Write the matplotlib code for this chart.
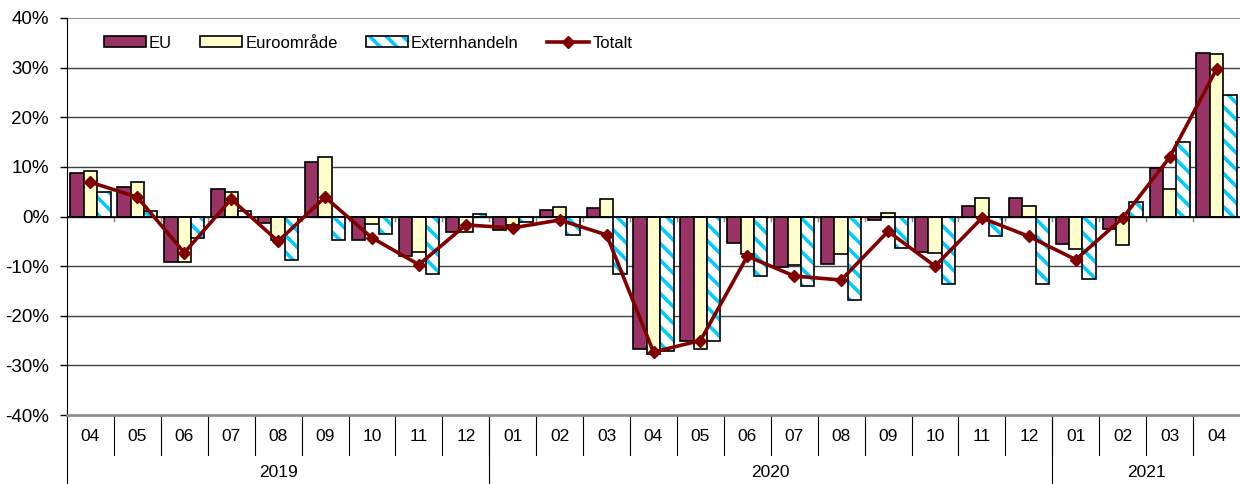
import matplotlib.pyplot as plt
import matplotlib.patches as patches
from matplotlib.lines import Line2D
import numpy as np

plt.rcParams['font.family'] = ['Liberation Sans', 'DejaVu Sans']
plt.rcParams['hatch.color'] = '#00CCFF'
plt.rcParams['hatch.linewidth'] = 2.6

# Data (% change), 2019-04 .. 2021-04
months = ['04', '05', '06', '07', '08', '09', '10', '11', '12',
          '01', '02', '03', '04', '05', '06', '07', '08', '09', '10', '11', '12',
          '01', '02', '03', '04']
years = ['2019', '2020', '2021']
year_counts = [9, 12, 4]

eu = [8.7, 6.0, -9.1, 5.5, -1.3, 10.9, -4.8, -8.0, -3.1,
      -2.8, 1.3, 1.8, -26.8, -25.1, -5.3, -10.2, -9.5, -0.8, -7.1, 2.1, 3.7,
      -5.5, -2.5, 9.8, 33.0]
euroomrade = [9.2, 7.0, -9.2, 4.9, -4.7, 11.9, -1.5, -7.1, -3.1,
              -1.7, 2.0, 3.6, -27.7, -26.7, -7.5, -9.7, -7.5, 0.7, -7.3, 3.7, 2.2,
              -6.5, -5.8, 5.5, 32.7]
extern = [4.9, 1.1, -4.3, 1.1, -8.8, -4.8, -3.6, -11.6, 0.5,
          -1.2, -3.8, -11.5, -27.1, -25.1, -12.0, -14.0, -16.9, -6.3, -13.7, -4.0, -13.7,
          -12.5, 3.0, 15.1, 24.5]
totalt = [6.9, 3.9, -7.3, 3.5, -5.0, 3.9, -4.3, -9.7, -1.7,
          -2.3, -0.7, -3.7, -27.3, -25.0, -8.0, -12.0, -12.8, -3.0, -10.0, -0.3, -4.0,
          -8.7, -0.3, 11.9, 29.7]

eu_color = '#993366'
euro_color = '#FFFFCC'
line_color = '#800000'

fig = plt.figure(figsize=(12.4, 4.84), dpi=100)
ax = fig.add_axes([67 / 1240, 1 - 415 / 484, 1 - 67 / 1240, 397 / 484])

x = np.arange(len(months))
w = 0.285

# gridlines
for g in range(-30, 40, 10):
    ax.axhline(g, color='#404040', lw=1, zorder=0)
ax.axhline(40, color='#909090', lw=1.5, zorder=0)

ax.bar(x - w, eu, w, color=eu_color, edgecolor='black', lw=1.2, zorder=2)
ax.bar(x, euroomrade, w, color=euro_color, edgecolor='black', lw=1.2, zorder=2)
# hatch in cyan (no edge), then black outline on top
ax.bar(x + w, extern, w, color='white', hatch='\\\\', zorder=2)
ax.bar(x + w, extern, w, fill=False, edgecolor='black', lw=1.2, zorder=2)

ax.plot(x, totalt, color=line_color, lw=2.6, marker='D', markersize=6.5, zorder=3)

ax.axhline(0, color='black', lw=1.2, zorder=2.5)
# small tick marks on the zero line
for b in np.arange(0.5, len(months) - 1, 1):
    ax.plot([b, b], [0, -0.9], color='#808080', lw=1, zorder=1)

ax.set_xlim(-0.5, len(months) - 0.5)
ax.set_ylim(-40, 40)
ax.set_yticks(range(-40, 41, 10))
ax.set_yticklabels([f'{v}%' for v in range(-40, 41, 10)], fontsize=13.5)
ax.tick_params(axis='y', length=5, width=1, pad=8)
ax.set_xticks([])

for s in ['top', 'right']:
    ax.spines[s].set_visible(False)
ax.spines['left'].set_color('black')
ax.spines['bottom'].set_color('#909090')
ax.spines['bottom'].set_linewidth(2)

# category axis: months and year groups
trans = ax.get_xaxis_transform()
for i, m in enumerate(months):
    ax.text(i, -0.055, m, transform=trans, ha='center', va='center', fontsize=12.5)
for b in np.arange(0.5, len(months) - 1, 1):
    ax.plot([b, b], [0, -0.10], transform=trans, color='black', lw=0.8, clip_on=False)

start = 0
bounds = [-0.5]
for yr, n in zip(years, year_counts):
    mid = start + (n - 1) / 2
    ax.text(mid, -0.146, yr, transform=trans, ha='center', va='center', fontsize=12.5)
    start += n
    bounds.append(start - 0.5)
for b in bounds[:-1]:
    ax.plot([b, b], [0, -0.18], transform=trans, color='black', lw=0.8, clip_on=False)

# legend
h_eu = patches.Patch(facecolor=eu_color, edgecolor='black', lw=1.2)
h_euro = patches.Patch(facecolor=euro_color, edgecolor='black', lw=1.2)
h_ext_fill = patches.Rectangle((0, 0), 1, 1, facecolor='white', hatch='\\\\')
h_ext_edge = patches.Rectangle((0, 0), 1, 1, fill=False, edgecolor='black', lw=1.2)
h_tot = Line2D([], [], color=line_color, lw=2.6, marker='D', markersize=6)
ax.legend([h_eu, h_euro, (h_ext_fill, h_ext_edge), h_tot],
          ['EU', 'Euroområde', 'Externhandeln', 'Totalt'],
          loc='center left', bbox_to_anchor=(0.0315, 0.937), ncol=4, frameon=False,
          fontsize=12, handlelength=2.5, handleheight=0.6, handletextpad=0.2,
          columnspacing=1.7, borderaxespad=0, borderpad=0)

plt.savefig('out.png', dpi=100, facecolor='white')
